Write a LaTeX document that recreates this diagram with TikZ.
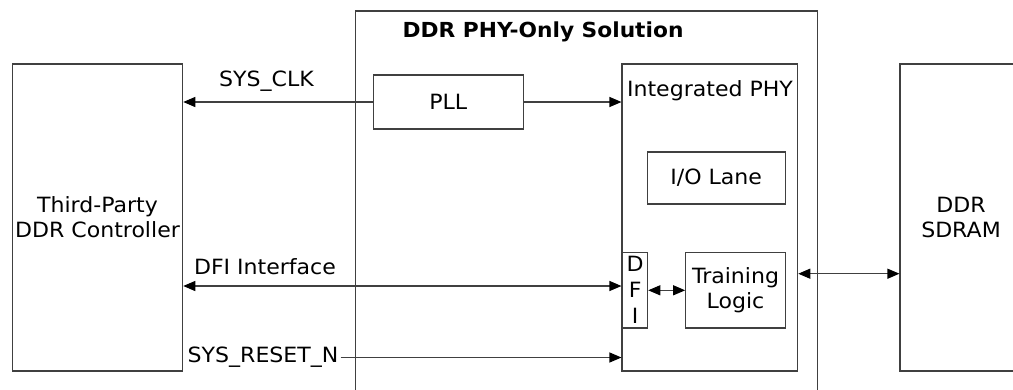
\documentclass[tikz,border=0pt]{standalone}
\usepackage{fontspec}
\setmainfont[FakeStretch=1.05]{DejaVu Sans}
\usetikzlibrary{arrows.meta}
\begin{document}
\begin{tikzpicture}[x=1pt,y=-1pt,
  box/.style={draw=black!75, line width=1.1pt, inner sep=0pt, align=center,
    font=\fontsize{21}{25}\selectfont},
  txt/.style={inner sep=0pt, align=center, font=\fontsize{21}{25}\selectfont},
  arr/.style={draw=black!75, line width=1.1pt, -{Triangle[length=12pt,width=10pt,color=black]}},
  darr/.style={draw=black!75, line width=1.1pt, {Triangle[length=12pt,width=10pt,color=black]}-{Triangle[length=12pt,width=10pt,color=black]}}]
\clip (0,0) rectangle (1013,389);
\fill[white] (0,0) rectangle (1013,389);
% outer solution box
\node[box, minimum width=462pt, minimum height=409pt] (outer) at (586.7,215.5) {};
\node[inner sep=0pt, font=\fontsize{20.7}{25}\selectfont\bfseries] (title) at (543,32) {DDR PHY-Only Solution};
% left controller
\node[box, minimum width=170.4pt, minimum height=307pt] (ctrl) at (97.5,217.5) {Third-Party\\DDR Controller};
% SDRAM
\node[box, minimum width=122pt, minimum height=307pt] (sdram) at (961,217.5) {DDR\\SDRAM};
% PLL
\node[box, minimum width=150pt, minimum height=54pt] (pll) at (448.3,102) {PLL};
% Integrated PHY
\node[box, minimum width=175.7pt, minimum height=307pt] (phy) at (709.85,217.5) {};
\node[txt] (phytitle) at (710,91) {Integrated PHY};
\node[box, minimum width=138.3pt, minimum height=52pt] (io) at (716.2,178) {I/O Lane};
\node[box, minimum width=25pt, minimum height=75.3pt, font=\fontsize{21}{26}\selectfont] (dfi) at (635.2,290.3) {D\\F\\I};
\node[box, minimum width=99.6pt, minimum height=75.3pt] (train) at (735.5,290.3) {Training\\Logic};
% helper coordinates
\coordinate (dfiy) at (0,286);
\coordinate (memy) at (0,273.7);
% connectors
\draw[arr] (pll.west) -- (pll.west -| ctrl.east);
\draw[arr] (pll.east) -- (pll.east -| phy.west);
\node[txt] (clklbl) at (266.5,81) {SYS\_CLK};
\draw[darr] (ctrl.east |- dfiy) -- (phy.west |- dfiy);
\node[txt] (dfilbl) at (265,267) {DFI Interface};
\node[txt, anchor=west] (rst) at (187.5,357.5) {SYS\_RESET\_N};
\draw[arr] (rst.east) ++(2,0) -- (rst.east -| phy.west);
\draw[darr] (dfi.east) -- (train.west);
\draw[darr] (phy.east |- memy) -- (sdram.west |- memy);
\end{tikzpicture}
\end{document}
